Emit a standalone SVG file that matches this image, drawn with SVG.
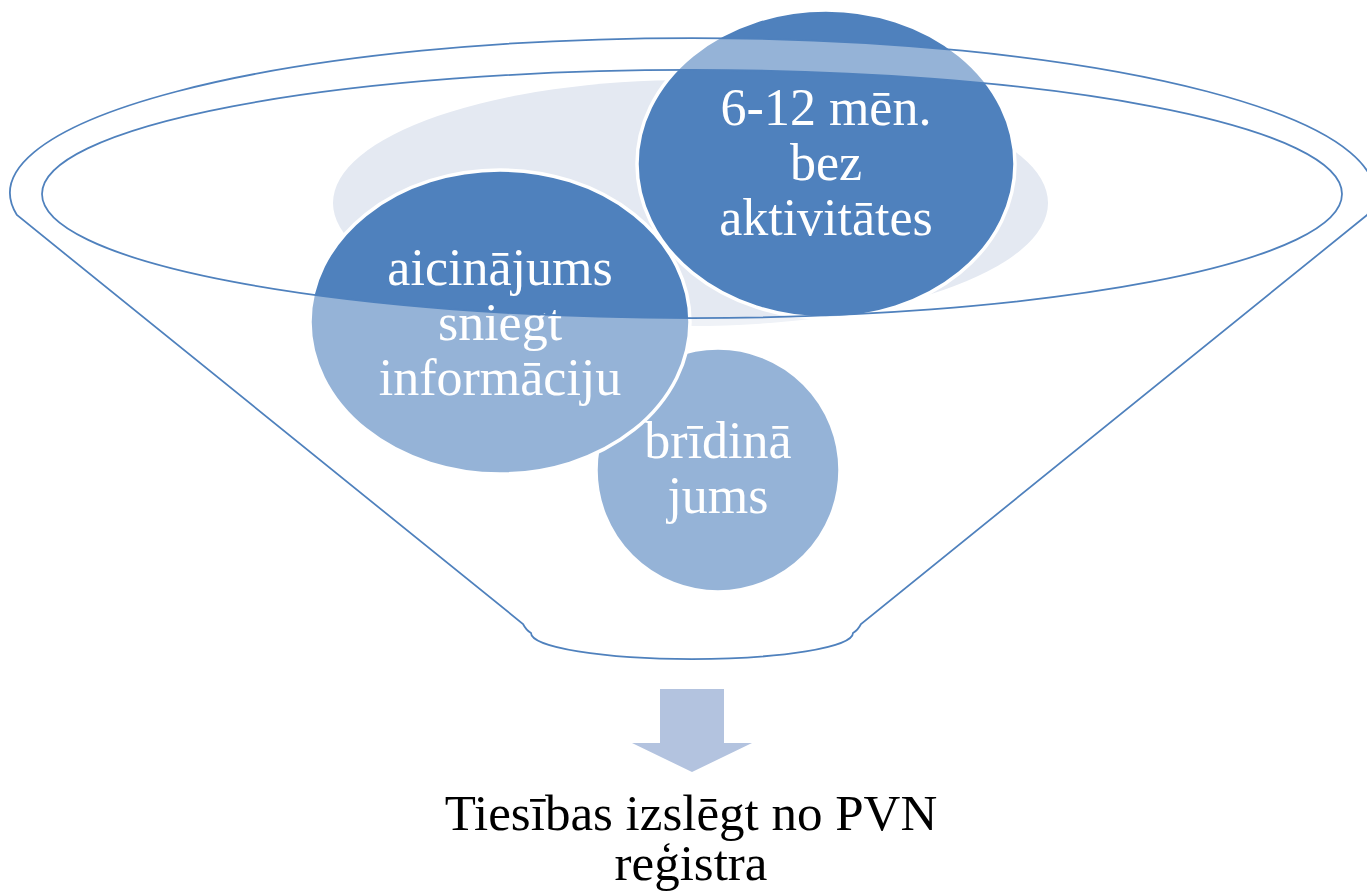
<svg xmlns="http://www.w3.org/2000/svg" width="1367" height="892" viewBox="0 0 1367 892">
  <style>
    .bubble { fill: #4F81BD; stroke: #FFFFFF; stroke-width: 3.5; }
    .ctext { font-family: "Liberation Serif", "Times New Roman", serif; font-size: 52px; fill: #FFFFFF; text-anchor: middle; }
    .rim { fill: none; stroke: #4F81BD; stroke-width: 1.75; }
    .btext { font-family: "Liberation Serif", "Times New Roman", serif; font-size: 51px; fill: #000000; text-anchor: middle; }
  </style>
  <rect x="0" y="0" width="1367" height="892" fill="#FFFFFF"/>
  <g id="backdrop">
    <ellipse cx="690.5" cy="203" rx="357.5" ry="123" fill="#E4E9F2"/>
  </g>
  <g id="node-bridinajums">
    <ellipse class="bubble" cx="718" cy="470" rx="122" ry="122"/>
    <text class="ctext" x="718" y="458">brīdinā</text>
    <text class="ctext" x="718" y="513">jums</text>
  </g>
  <g id="node-6-12">
    <ellipse class="bubble" cx="826" cy="164" rx="189" ry="154"/>
    <text class="ctext" x="826" y="125">6-12 mēn.</text>
    <text class="ctext" x="826" y="180">bez</text>
    <text class="ctext" x="826" y="235">aktivitātes</text>
  </g>
  <g id="node-aicinajums">
    <ellipse class="bubble" cx="500" cy="322" rx="190" ry="152"/>
    <text class="ctext" x="500" y="285">aicinājums</text>
    <text class="ctext" x="500" y="340">sniegt</text>
    <text class="ctext" x="500" y="395">informāciju</text>
  </g>
  <g id="funnel">
    <path d="M16.9,215 A682,155 0 1 1 1367.1,215 L861,624 Q858,630 853,633 A161,26 0 0 1 531,633 Q526,630 523,624 Z M42,194 A650,124 0 1 0 1342,194 A650,124 0 1 0 42,194 Z" fill="#FFFFFF" fill-opacity="0.4" fill-rule="evenodd" stroke="none"/>
    <path class="rim" d="M16.9,215 A682,155 0 1 1 1367.1,215 L861,624 Q858,630 853,633 A161,26 0 0 1 531,633 Q526,630 523,624 Z"/>
    <ellipse class="rim" cx="692" cy="194" rx="650" ry="124"/>
  </g>
  <g id="connectors">
    <path d="M660,689 L724,689 L724,743 L752,743 L692,772 L632,743 L660,743 Z" fill="#B3C3DF"/>
  </g>
  <g id="node-result">
    <text class="btext"><tspan x="691" y="830">Tiesības izslēgt no PVN</tspan><tspan x="691" y="880">reģistra</tspan></text>
  </g>
</svg>
